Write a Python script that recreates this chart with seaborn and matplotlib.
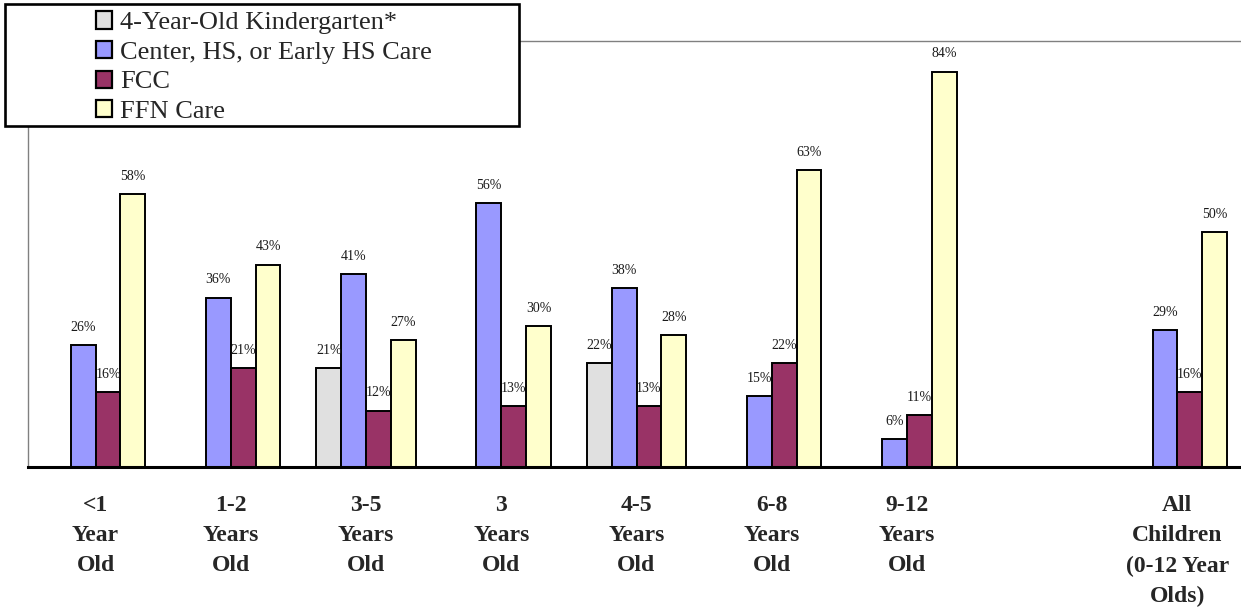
import matplotlib
matplotlib.use("Agg")
import matplotlib.pyplot as plt
from matplotlib.patches import Patch, Rectangle
import pandas as pd
import seaborn as sns

# Age groups (one blank spacer group before the overall column)
age_groups = ["<1\nYear\nOld", "1-2\nYears\nOld", "3-5\nYears\nOld", "3\nYears\nOld",
              "4-5\nYears\nOld", "6-8\nYears\nOld", "9-12\nYears\nOld", "",
              "All\nChildren\n(0-12 Year\nOlds)"]

care_types = ["4-Year-Old Kindergarten*", "Center, HS, or Early HS Care", "FCC", "FFN Care"]

# Percent of children in each care type (None = not applicable)
kindergarten = [None, None, 21, None, 22, None, None, None, None]
center_hs = [26, 36, 41, 56, 38, 15, 6, None, 29]
fcc = [16, 21, 12, 13, 13, 22, 11, None, 16]
ffn = [58, 43, 27, 30, 28, 63, 84, None, 50]

colors = ["#E0E0E0", "#9999FF", "#993366", "#FFFFCC"]

rows = []
for ctype, vals in zip(care_types, [kindergarten, center_hs, fcc, ffn]):
    for grp, v in zip(age_groups, vals):
        if v is not None:
            rows.append({"group": grp, "care": ctype, "pct": v})
df = pd.DataFrame(rows)

sns.set_style("white")
plt.rcParams["font.family"] = ["Liberation Serif", "DejaVu Serif"]

W, H = 1241, 611
fig = plt.figure(figsize=(W / 100, H / 100), dpi=100)
ax = fig.add_axes([28 / W, (H - 467) / H, 1217 / W, 426 / H])

sns.barplot(data=df, x="group", y="pct", hue="care", order=age_groups,
            hue_order=care_types, palette=colors, saturation=1, width=0.734,
            edgecolor="black", linewidth=1.4, errorbar=None, legend=False, ax=ax)

for cont in ax.containers:
    ax.bar_label(cont, fmt="%.0f%%", padding=8, fontsize=10, color="#1a1a1a")

ax.set_xlim(-0.5, len(age_groups) - 0.5)
ax.set_ylim(0, 90.5)
ax.set_xlabel("")
ax.set_ylabel("")
ax.set_yticks([])

ax.set_xticks(range(len(age_groups)))
ax.set_xticklabels(age_groups, fontsize=17, fontweight="bold", linespacing=1.58)
ax.tick_params(axis="x", which="major", length=0, pad=20)
ax.set_xticks([i - 0.5 for i in range(len(age_groups) + 1)], minor=True)
ax.tick_params(axis="x", which="minor", length=6, width=2, color="black", direction="out")

for side in ["left", "top"]:
    ax.spines[side].set_color("#808080")
    ax.spines[side].set_linewidth(1.0)
ax.spines["right"].set_visible(False)
ax.spines["bottom"].set_color("black")
ax.spines["bottom"].set_linewidth(2.2)

# Legend box
box = Rectangle((5 / W, 1 - 126 / H), 514 / W, 122 / H, transform=fig.transFigure,
                facecolor="white", edgecolor="black", linewidth=1.9, zorder=3)
fig.patches.append(box)

handles = [Patch(facecolor=c, edgecolor="black", linewidth=1.6) for c in colors]
fig.legend(handles, care_types, loc="upper left",
           bbox_to_anchor=(95.7 / W, 1 - 11.5 / H), frameon=False, fontsize=19,
           handlelength=0.63, handleheight=0.63, handletextpad=0.3,
           labelspacing=0.25, borderpad=0, borderaxespad=0)

fig.savefig("out.png", dpi=100)
